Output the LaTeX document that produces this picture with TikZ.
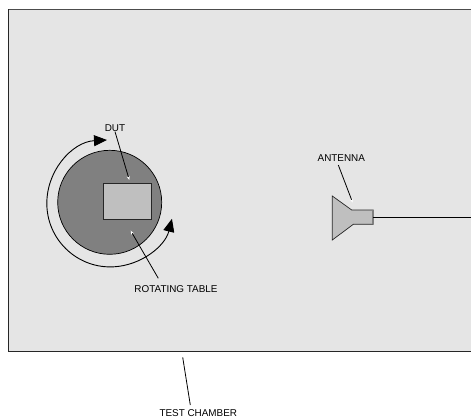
\documentclass[tikz,border=0pt]{standalone}
\usepackage{fontspec}
\setmainfont{Liberation Sans}
\usetikzlibrary{arrows.meta}
\tikzset{
    partlabel/.style={inner sep=0pt, font=\fontsize{9.9}{11}\selectfont},
    leader/.style={line width=0.8pt, -{Stealth[length=4pt,width=3pt,fill=white,white]}},
    rotarrow/.style={line width=0.9pt, {Triangle[length=13pt,width=11pt]}-{Triangle[length=13pt,width=11pt]}},
    solidpart/.style={draw=black!85, line width=0.7pt, fill=black!25}
}
\begin{document}
\begin{tikzpicture}[x=1pt, y=-1pt]
    \useasboundingbox (0, 0) rectangle (471, 420);

    % Declare the chamber
    \fill[black!10] (8, 9.5) rectangle (471, 351);
    \draw[black!70, line width=0.7pt] (471, 9.5) -- (8, 9.5);
    \draw[black!85, line width=0.9pt] (8, 9.5) -- (8, 351) -- (471, 351);

    % Declare the table and the DUT
    \node[draw=black, line width=0.7pt, fill=black!50, circle, inner sep=0pt, minimum size=104pt] at (109.7, 202.3) (table) {};
    \node[solidpart, rectangle, inner sep=0pt, minimum width=48pt, minimum height=35.6pt] at (127.3, 201.5) (dut) {};

    % Declare the rotation arrow
    \coordinate (rotstart) at (107, 140);
    \draw[rotarrow] (rotstart) arc[start angle=93, end angle=346, radius=63.5pt];

    % Declare the antenna
    \draw[solidpart] (332.3, 196) -- (351.7, 210) -- (373.3, 210) -- (373.3, 224.3) -- (353.3, 224.3) -- (332.3, 240) -- cycle;
    \fill[black!50] (371.8, 210.3) rectangle (373.6, 224);
    \coordinate (hornout) at (373.3, 217);
    \coordinate (cableend) at (471, 217);
    \draw[line width=0.8pt] (hornout) -- (cableend);

    % Declare the labels
    \node[partlabel] at (115, 128) (dutlabel) {DUT};
    \node[partlabel] at (176, 289) (tablelabel) {ROTATING TABLE};
    \node[partlabel] at (341.3, 158.3) (antennalabel) {ANTENNA};
    \node[partlabel] at (198.3, 413.3) (chamberlabel) {TEST CHAMBER};

    % Declare the leader ends
    \coordinate (duttip) at (129.3, 180);
    \coordinate (tablefrom) at (158.3, 278.3);
    \coordinate (tabletip) at (130.7, 230.7);
    \coordinate (antennafrom) at (338.3, 165);
    \coordinate (antennatip) at (352.7, 202.7);
    \coordinate (chamberfrom) at (190.3, 405);
    \coordinate (chambertip) at (182.7, 357.3);

    % Declare leaders
    \draw[leader] (dutlabel.south) -- (duttip);
    \draw[leader] (tablefrom) -- (tabletip);
    \draw[leader] (antennafrom) -- (antennatip);
    \draw[line width=0.8pt] (chamberfrom) -- (chambertip);

\end{tikzpicture}
\end{document}
